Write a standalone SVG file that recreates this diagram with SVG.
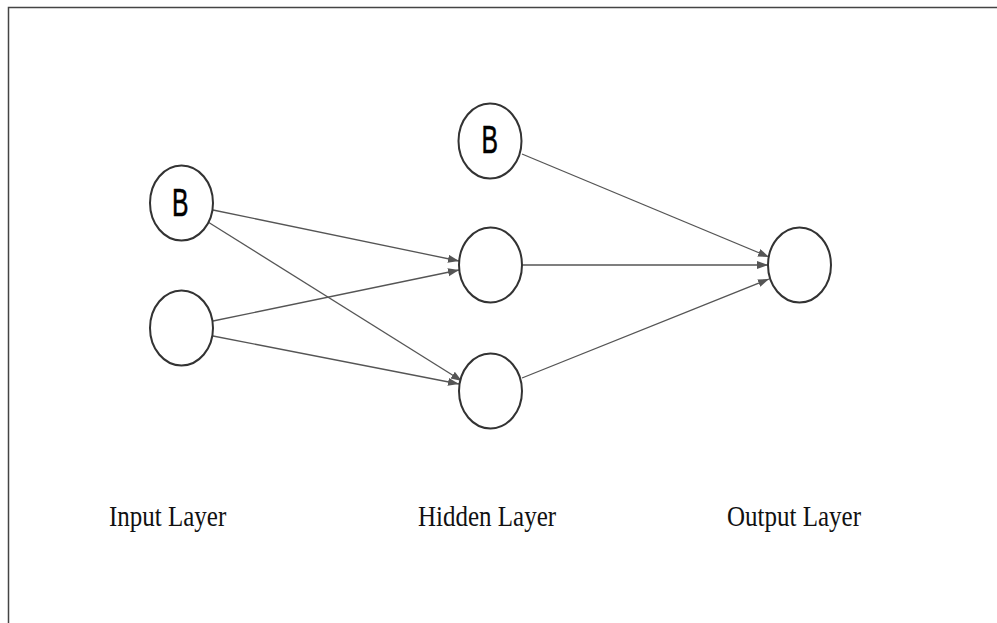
<svg xmlns="http://www.w3.org/2000/svg" width="997" height="623" viewBox="0 0 997 623">
<style>
.node ellipse{fill:#fff;stroke:#333;stroke-width:2}
.b{font-family:"Liberation Sans",Arial,sans-serif;font-size:38px;fill:#000;stroke:#000;stroke-width:0.6}
.edge{stroke:#555;stroke-width:1.3;fill:none;marker-end:url(#arr)}
.lbl{font-family:"Liberation Serif","Times New Roman",serif;font-size:25px;fill:#111}
</style>
<defs>
<marker id="arr" markerUnits="userSpaceOnUse" markerWidth="12" markerHeight="10" refX="11" refY="4" orient="auto">
<path d="M0,0 L11,4 L0,8 Z" fill="#555"/>
</marker>
</defs>
<rect width="997" height="623" fill="#fff"/>
<path d="M8.5,623 V7.5 H997" fill="none" stroke="#444" stroke-width="1.5"/>
<g id="connectors">
<line class="edge" x1="213" y1="210" x2="459" y2="261"/>
<line class="edge" x1="208" y1="222" x2="462" y2="381"/>
<line class="edge" x1="213" y1="321" x2="459" y2="270"/>
<line class="edge" x1="213" y1="336" x2="459" y2="384"/>
<line class="edge" x1="522" y1="154" x2="769" y2="257"/>
<line class="edge" x1="522" y1="265" x2="768" y2="265"/>
<line class="edge" x1="522" y1="378" x2="769" y2="279"/>
</g>
<g id="in_b" class="node"><ellipse cx="181.5" cy="203" rx="31.5" ry="37.5"/><text class="b" x="172" y="216" textLength="16.5" lengthAdjust="spacingAndGlyphs">B</text></g>
<g id="in_1" class="node"><ellipse cx="181.5" cy="328" rx="31.5" ry="37.5"/></g>
<g id="hid_b" class="node"><ellipse cx="490" cy="141" rx="31.5" ry="37.5"/><text class="b" x="481.5" y="153" textLength="16.5" lengthAdjust="spacingAndGlyphs">B</text></g>
<g id="hid_1" class="node"><ellipse cx="490.5" cy="265" rx="31.5" ry="37.5"/></g>
<g id="hid_2" class="node"><ellipse cx="490.5" cy="391" rx="31.5" ry="37.5"/></g>
<g id="out_1" class="node"><ellipse cx="799.5" cy="265" rx="31.5" ry="37.5"/></g>
<g transform="translate(0,526) scale(1,1.15) translate(0,-526)">
<text class="lbl" x="109" y="526">Input Layer</text>
<text class="lbl" x="418" y="526">Hidden Layer</text>
<text class="lbl" x="727" y="526">Output Layer</text>
</g>
</svg>
